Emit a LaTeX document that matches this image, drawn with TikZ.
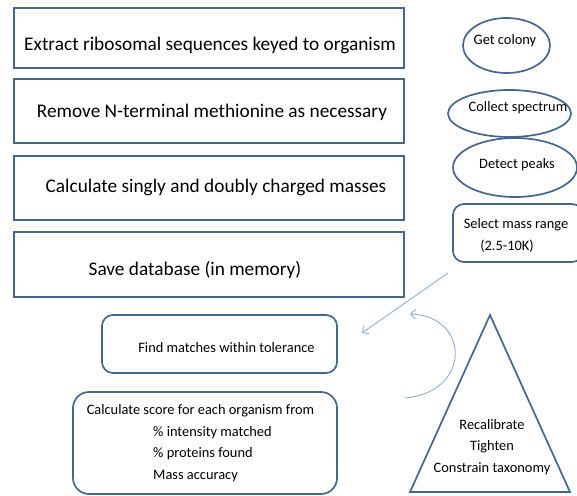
\documentclass[tikz,border=0pt]{standalone}
\usepackage{fontspec}
\setmainfont{Carlito}
\usepackage{xcolor}
\usetikzlibrary{shapes.geometric, arrows.meta, positioning, calc}
\definecolor{boxblue}{HTML}{44668F}
\definecolor{arrblue}{HTML}{8DB0DC}

\tikzset{
  stepbox/.style={draw=boxblue, line width=1.7pt, minimum width=390pt, inner sep=0pt},
  roundbox/.style={draw=boxblue, line width=1.7pt, rounded corners=11pt, inner sep=0pt},
  oval/.style={draw=boxblue, line width=1.7pt, ellipse, inner sep=0pt},
  bigtxt/.style={font=\fontsize{19.3}{23}\selectfont, anchor=base, inner sep=0pt},
  smalltxt/.style={font=\fontsize{14.4}{21.4}\selectfont, anchor=base, inner sep=0pt},
  flow/.style={draw=arrblue, line width=0.9pt, -{Straight Barb[length=5pt,width=10pt]}}
}

\begin{document}
\begin{tikzpicture}[x=1pt, y=-1pt]
\useasboundingbox (0,0) rectangle (577,495);

% Database preparation (left column)
\foreach \name/\y/\h/\tx/\ty/\txt in {
    extract/38/60/210/50/Extract ribosomal sequences keyed to organism,
    remove/111/64/212/117/Remove N-terminal methionine as necessary,
    masses/188/64/216/192/Calculate singly and doubly charged masses,
    save/264.5/65/195/275/Save database (in memory)} {
    \node[stepbox, minimum height=\h pt] (\name) at (209,\y) {};
    \node[bigtxt] (\name T) at (\tx,\ty) {\txt};
}

% Spectrum acquisition (right column)
\node[oval, minimum width=87pt, minimum height=55pt] (colony) at (506.5,45.5) {};
\node[smalltxt] (colonyT) at (505,45) {Get colony};
\node[oval, minimum width=123pt, minimum height=47pt] (spectrum) at (509.5,113.5) {};
\node[smalltxt] (spectrumT) at (518,111) {Collect spectrum};
\node[oval, minimum width=124pt, minimum height=59pt] (peaks) at (515,167.5) {};
\node[smalltxt] (peaksT) at (517,168) {Detect peaks};
\node[roundbox, minimum width=130pt, minimum height=58pt] (range) at (518,233) {};
\node[smalltxt] (rangeT) at (516,228) {Select mass range};
\node[smalltxt] (rangeK) at (507,250) {(2.5-10K)};

% Matching and scoring
\node[roundbox, minimum width=235pt, minimum height=58pt] (match) at (219.5,344) {};
\node[smalltxt] (matchT) at (226.5,352) {Find matches within tolerance};
\node[roundbox, rounded corners=16pt, minimum width=264pt, minimum height=102pt] (score) at (205,443) {};
\node[smalltxt] (scoreT) at (200.5,414) {Calculate score for each organism from};
\node[smalltxt, anchor=base west, align=left] (scoreL) at (153,479) {\% intensity matched\\\% proteins found\\Mass accuracy};

% Feedback loop
\coordinate (apex) at (490,315);
\coordinate (baseR) at (570,492);
\coordinate (baseL) at (410,492);
\draw[draw=boxblue, line width=1.7pt, line join=miter] (apex) -- (baseR) -- (baseL) -- cycle;
\node[smalltxt, align=center] (refine) at (492,472) {Recalibrate\\Tighten\\Constrain taxonomy};

\coordinate (rangeout) at (448,273);
\coordinate (matchin) at (362,333);
\draw[flow] (rangeout) -- (matchin);

\coordinate (loopstart) at (405,398);
\coordinate (loopend) at (410,314);
\draw[flow] (loopstart) .. controls (472,392) and (470,316) .. (loopend);
\end{tikzpicture}
\end{document}
